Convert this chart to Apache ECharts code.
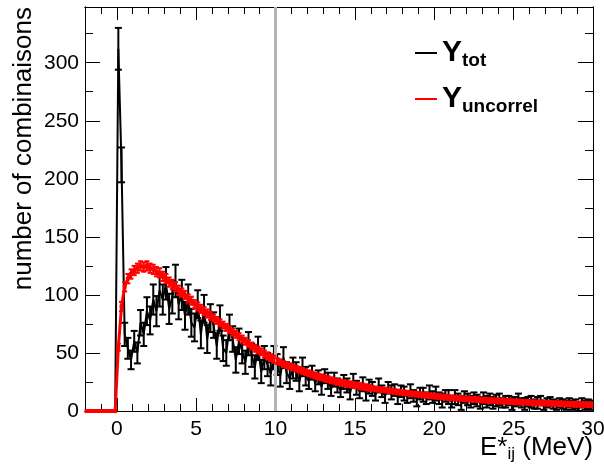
<!DOCTYPE html>
<html>
<head>
<meta charset="utf-8">
<script src="https://cdn.jsdelivr.net/npm/echarts@6/dist/echarts.min.js"></script>
<style>
html,body{margin:0;padding:0;background:#fff;}
#chart{width:604px;height:468px;}
</style>
</head>
<body>
<div id="chart"></div>
<script>
// Histogram binning (bins of 0.2 MeV from -2 to 30)
const binLow = -2;
const binWidth = 0.2;

// Y_tot : counts per bin
const blackValues = [
  0,0,0,0,0,0,0,0,0,0,
  312,212,66,54,44,60,50,76,66,86,
  78,96,86,104,96,110,88,98,112,92,
  100,82,96,76,72,92,66,88,62,80,
  74,56,80,54,50,72,62,44,60,52,
  42,58,48,38,54,34,46,40,32,46,
  40,30,46,33,28,37,34,25,38,30,
  26,33,24,29,21,30,26,19,27,22,
  18,25,22,16,26,20,17,23,15,21,
  19,14,22,17,13,20,16,18,12,17,
  15,12,17,13,10,15,14,11,16,12,
  15,11,9,13,12,8,12,10,7,12,
  10,8,11,9,7,11,8,10,7,9,
  10,7,8,9,6,8,10,7,6,8,
  8,6,7,9,5,7,8,6,5,7,
  6,5,7,5,6,4,7,5,6,5
];
// Y_tot : error per bin
const blackErrors = [
  0,0,0,0,0,0,0,0,0,0,
  18,15,10,9,8,9,9,11,10,12,
  12,13,13,14,13,14,13,14,14,13,
  13,12,13,12,12,12,12,12,12,12,
  11,11,11,11,11,11,11,11,11,11,
  10,10,10,10,10,10,10,10,10,10,
  9,9,9,9,9,9,8,8,8,8,
  7,6,7,6,7,6,7,6,6,6,
  6,6,6,6,6,6,6,6,6,6,
  6,5,6,5,6,5,6,5,6,5,
  6,5,6,5,6,5,6,5,6,5,
  6,5,6,5,6,5,6,5,6,5,
  5,5,5,5,5,5,5,5,5,5,
  5,4,5,4,5,4,5,4,5,4,
  5,4,5,4,4,4,4,4,4,4,
  4,4,4,4,4,4,4,4,4,4
];
// Y_uncorrel : counts per bin
const redValues = [
  0,0,0,0,0,0,0,0,0,0,
  55,90,107,114,118,121,123,125,124,125,
  123,122,120,119,116,114,111,109,107,104,
  102,100,97,95,92,90,88,86,84,82,
  80,78,76,74,72,70,68,66,64,62,
  60,58,56,54,52.5,51,49,47.5,46,44.5,
  43,42,40.5,39.5,38.5,37.5,36.5,35.5,34.5,33.5,
  32.5,31.5,30.5,29.5,29,28,27.5,26.5,26,25,
  24.5,24,23.5,23,22.5,22,21.5,21,20.5,20,
  19.5,19,18.7,18.3,18,17.6,17.2,16.8,16.4,16,
  15.7,15.4,15,14.7,14.4,14.1,13.8,13.5,13.2,13,
  12.7,12.4,12.1,11.9,11.6,11.4,11.2,11,10.8,10.6,
  10.4,10.2,10,9.8,9.6,9.4,9.3,9.1,8.9,8.8,
  8.6,8.5,8.3,8.2,8,7.9,7.8,7.6,7.5,7.4,
  7.2,7.1,7,6.9,6.8,6.7,6.6,6.5,6.4,6.3,
  6.2,6.1,6,5.9,5.8,5.7,5.6,5.5,5.4,5.3
];
// Y_uncorrel : error per bin
const redErrors = [
  0,0,0,0,0,0,0,0,0,0,
  3,4,4,4,4,4,4,4,4,4,
  4,4,4,4,4,4,4,4,4,4,
  3.5,3.5,3.5,3.5,3.5,3.5,3.5,3.5,3.5,3.5,
  3,3,3,3,3,3,3,3,3,3,
  3,3,3,3,3,3,3,3,3,3,
  2.5,2.5,2.5,2.5,2.5,2.5,2.5,2.5,2.5,2.5,
  2.5,2.5,2.5,2.5,2.5,2.5,2.5,2.5,2.5,2.5,
  2.5,2.5,2.5,2.5,2.5,2.5,2.5,2.5,2.5,2.5,
  2,2,2,2,2,2,2,2,2,2,
  2,2,2,2,2,2,2,2,2,2,
  2,2,2,2,2,2,2,2,2,2,
  2,2,2,2,2,2,2,2,2,2,
  2,2,2,2,2,2,2,2,2,2,
  2,2,2,2,2,2,2,2,2,2,
  2,2,2,2,2,2,2,2,2,2
];

const xMajorTicks = [0,5,10,15,20,25,30];
const xMinorTicks = [-1,1,2,3,4,6,7,8,9,11,12,13,14,16,17,18,19,21,22,23,24,26,27,28,29];
const yMajorTicks = [0,50,100,150,200,250,300];
const yMinorTicks = [25,75,125,175,225,275,325];
const cutLine = 10;

const FONT = "'Liberation Sans', Arial, Helvetica, sans-serif";

const xCenters = blackValues.map((_, i) => +(binLow + binWidth * (i + 0.5)).toFixed(2));
const blackLine = xCenters.map((x, i) => [x, blackValues[i]]);
const blackErr = xCenters.map((x, i) => [x, blackValues[i], blackErrors[i]]);
const redLine = xCenters.map((x, i) => [x, redValues[i]]);
const redErr = xCenters.map((x, i) => [x, redValues[i], redErrors[i]]);

function errRenderer(color, capHalf, lw) {
  return function (params, api) {
    const x = api.value(0), y = api.value(1), e = api.value(2);
    if (!(e > 0)) return null;
    const lo = api.coord([x, y - e]);
    const hi = api.coord([x, y + e]);
    const st = { stroke: color, lineWidth: lw };
    return {
      type: 'group',
      children: [
        { type: 'line', shape: { x1: lo[0], y1: lo[1], x2: hi[0], y2: hi[1] }, style: st },
        { type: 'line', shape: { x1: lo[0] - capHalf, y1: lo[1], x2: lo[0] + capHalf, y2: lo[1] }, style: st },
        { type: 'line', shape: { x1: hi[0] - capHalf, y1: hi[1], x2: hi[0] + capHalf, y2: hi[1] }, style: st }
      ]
    };
  };
}

function xAxisDef(pos, ticks, len, withLabels, extra) {
  return Object.assign({
    type: 'value', min: -2, max: 30, position: pos,
    axisLine: { show: true, onZero: false, lineStyle: { color: '#000', width: 1 } },
    axisTick: { show: true, inside: true, length: len, customValues: ticks, lineStyle: { color: '#000', width: 1 } },
    axisLabel: withLabels ? { show: true, customValues: ticks, margin: 8, fontSize: 21, color: '#000', fontFamily: FONT } : { show: false },
    splitLine: { show: false }
  }, extra || {});
}
function yAxisDef(pos, ticks, len, withLabels, extra) {
  return Object.assign({
    type: 'value', min: 0, max: 348, position: pos,
    axisLine: { show: true, onZero: false, lineStyle: { color: '#000', width: 1 } },
    axisTick: { show: true, inside: true, length: len, customValues: ticks, lineStyle: { color: '#000', width: 1 } },
    axisLabel: withLabels ? { show: true, customValues: ticks, margin: 6, fontSize: 21, color: '#000', fontFamily: FONT } : { show: false },
    splitLine: { show: false }
  }, extra || {});
}

const chart = echarts.init(document.getElementById('chart'), null, { renderer: 'canvas' });
chart.setOption({
  animation: false,
  backgroundColor: '#fff',
  grid: { left: 85, right: 11, top: 7, bottom: 57, containLabel: false, outerBoundsMode: 'none' },
  legend: {
    data: ['Y_tot', 'Y_uncorrel'],
    orient: 'vertical',
    left: 410, top: 33,
    itemGap: 14,
    itemWidth: 22, itemHeight: 2,
    icon: 'rect',
    formatter: function (name) {
      const parts = name.split('_');
      return '{a|' + parts[0] + '}{b|' + parts[1] + '}';
    },
    textStyle: {
      color: '#000',
      rich: {
        a: { fontSize: 30, fontWeight: 'bold', fontFamily: FONT, color: '#000', lineHeight: 34 },
        b: { fontSize: 19, fontWeight: 'bold', fontFamily: FONT, color: '#000', lineHeight: 12, verticalAlign: 'bottom' }
      }
    }
  },
  xAxis: [
    xAxisDef('bottom', xMajorTicks, 13, true, {
      name: '{a|E*}{b|ij}{a| (MeV)}',
      nameLocation: 'end', nameGap: 0, nameMoveOverlap: false,
      nameTextStyle: {
        align: 'right', verticalAlign: 'top', padding: [22, 0, 0, 0],
        rich: {
          a: { fontSize: 26, fontFamily: FONT, color: '#000', lineHeight: 30 },
          b: { fontSize: 17, fontFamily: FONT, color: '#000', lineHeight: 8, verticalAlign: 'bottom' }
        }
      }
    }),
    xAxisDef('bottom', xMinorTicks, 7, false),
    xAxisDef('top', xMajorTicks, 13, false),
    xAxisDef('top', xMinorTicks, 7, false)
  ],
  yAxis: [
    yAxisDef('left', yMajorTicks, 15, true, {
      name: 'number of combinaisons',
      nameLocation: 'end', nameGap: 0, nameRotate: 90, nameMoveOverlap: false,
      nameTextStyle: {
        fontSize: 26, fontFamily: FONT, color: '#000',
        align: 'right', verticalAlign: 'bottom', padding: [0, 0, 48, 0]
      }
    }),
    yAxisDef('left', yMinorTicks, 8, false),
    yAxisDef('right', yMajorTicks, 15, false),
    yAxisDef('right', yMinorTicks, 8, false)
  ],
  series: [
    {
      name: 'Y_tot', type: 'line', xAxisIndex: 0, yAxisIndex: 0,
      data: blackLine, showSymbol: false, symbol: 'none',
      lineStyle: { color: '#000', width: 2 }, itemStyle: { color: '#000' },
      z: 2, clip: true
    },
    {
      name: 'Y_tot err', type: 'custom', xAxisIndex: 0, yAxisIndex: 0,
      data: blackErr, renderItem: errRenderer('#000', 3.5, 2),
      encode: { x: 0, y: 1 }, z: 3, clip: true, silent: true
    },
    {
      name: 'Y_uncorrel', type: 'line', xAxisIndex: 0, yAxisIndex: 0,
      data: redLine, showSymbol: true, symbol: 'rect', symbolSize: 4,
      lineStyle: { color: '#ff0000', width: 3 }, itemStyle: { color: '#ff0000' },
      z: 4, clip: true
    },
    {
      name: 'Y_uncorrel err', type: 'custom', xAxisIndex: 0, yAxisIndex: 0,
      data: redErr, renderItem: errRenderer('#ff0000', 2.5, 2),
      encode: { x: 0, y: 1 }, z: 5, clip: true, silent: true
    },
    {
      name: 'cut', type: 'line', xAxisIndex: 0, yAxisIndex: 0, data: [], z: 10,
      markLine: {
        silent: true, symbol: ['none', 'none'], label: { show: false },
        lineStyle: { color: '#b4b4b4', width: 3, type: 'solid' },
        data: [{ xAxis: cutLine }]
      }
    }
  ]
});
</script>
</body>
</html>
